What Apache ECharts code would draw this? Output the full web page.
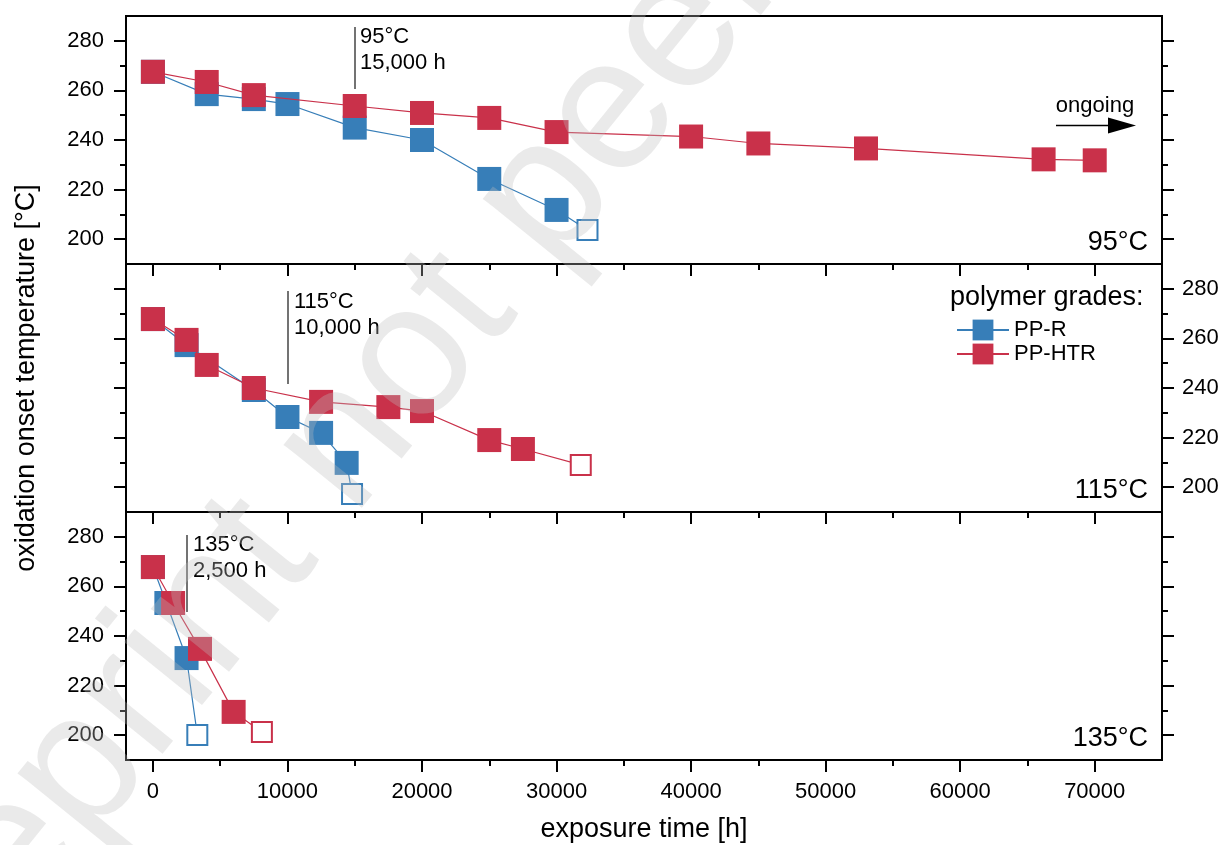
<!DOCTYPE html>
<html>
<head>
<meta charset="utf-8">
<title>oxidation onset temperature</title>
<script src="https://cdn.jsdelivr.net/npm/echarts@6/dist/echarts.min.js"></script>
<style>
	html, body { margin: 0; padding: 0; background: #fff; }
	#main { width: 1224px; height: 845px; }
</style>
</head>
<body>
<div id="main"></div>
<script>
	// exposure time [h] and oxidation onset temperature [°C]
	// 95°C ageing
	var ppR95Time = [0, 4000, 7500, 10000, 15000, 20000, 25000, 30000, 32300];
	var ppR95Oit = [267.5, 258.5, 256.5, 254.5, 245, 240, 224.3, 211.8, 203.7];
	var ppHtr95Time = [0, 4000, 7500, 15000, 20000, 25000, 30000, 40000, 45000, 53000, 66200, 70000];
	var ppHtr95Oit = [267.5, 263.4, 258.1, 253.7, 250.9, 248.9, 243.2, 241.4, 238.6, 236.6, 232.2, 231.8];
	// 115°C ageing
	var ppR115Time = [0, 2500, 7500, 10000, 12500, 14400, 14800];
	var ppR115Oit = [267.8, 257.3, 239.2, 228.3, 221.9, 209.8, 197.3];
	var ppHtr115Time = [0, 2500, 4000, 7500, 12500, 17500, 20000, 25000, 27500, 31800];
	var ppHtr115Oit = [267.8, 259.4, 249.3, 240, 234.4, 232.3, 230.7, 219, 215.4, 209];
	// 135°C ageing
	var ppR135Time = [0, 1000, 2500, 3300];
	var ppR135Oit = [267.8, 253.3, 231.1, 200.1];
	var ppHtr135Time = [0, 1500, 3500, 6000, 8100];
	var ppHtr135Oit = [267.8, 253.3, 234.8, 209.4, 201.3];

	// last point open (failed) or not: [PP-R, PP-HTR] per panel
	var lastOpen = [[true, false], [true, true], [true, true]];

	var panelNames = ['95°C', '115°C', '135°C'];
	var markTime = [15000, 10000, 2500];
	var markText = ['95°C\n15,000 h', '115°C\n10,000 h', '135°C\n2,500 h'];
	var markTop = [285.6, 279.1, 280.7];
	var markBottom = [260.6, 241.6, 249.7];

	var xMajor = [0, 10000, 20000, 30000, 40000, 50000, 60000, 70000];
	var xMinor = [5000, 15000, 25000, 35000, 45000, 55000, 65000];
	var yMajor = [200, 220, 240, 260, 280];
	var yMinor = [210, 230, 250, 270];

	var seriesNames = ['PP-R', 'PP-HTR'];
	var colors = ['#377EB8', '#C9314A'];
	var FONT = 'Liberation Sans, Arial, sans-serif';

	var panelData = [
		[[ppR95Time, ppR95Oit], [ppHtr95Time, ppHtr95Oit]],
		[[ppR115Time, ppR115Oit], [ppHtr115Time, ppHtr115Oit]],
		[[ppR135Time, ppR135Oit], [ppHtr135Time, ppHtr135Oit]]
	];

	var gridTops = [16, 264, 512];
	var gridH = 248;

	function makePoints(t, v, open, color) {
		var arr = [];
		for (var i = 0; i < t.length; i++) {
			if (open && i == t.length - 1) {
				arr.push({
					value : [t[i], v[i]],
					symbolSize : 20,
					itemStyle : { color : '#fff', borderColor : color, borderWidth : 2 }
				});
			} else {
				arr.push([t[i], v[i]]);
			}
		}
		return arr;
	}

	function tickAxis(type, g, pos, values, len, showLabel, margin) {
		var ax = {
			type : 'value',
			gridIndex : g,
			position : pos,
			min : type == 'x' ? -2000 : 190,
			max : type == 'x' ? 75000 : 290,
			axisLine : { show : false, onZero : false },
			splitLine : { show : false },
			axisTick : {
				show : true,
				inside : false,
				length : len,
				customValues : values,
				lineStyle : { color : '#000', width : 2 }
			},
			axisLabel : {
				show : showLabel,
				customValues : values,
				margin : margin,
				fontSize : 22,
				color : '#000',
				fontFamily : FONT,
				formatter : function(v) { return String(v); }
			}
		};
		return ax;
	}

	var grids = [], xAxes = [], yAxes = [], series = [], graphics = [];

	for (var g = 0; g < 3; g++) {
		grids.push({
			left : 126, right : 62, top : gridTops[g], height : gridH,
			show : true, borderColor : '#000', borderWidth : 2, backgroundColor : 'transparent'
		});
		// x: major + minor ticks
		xAxes.push(tickAxis('x', g, 'bottom', xMajor, 12, g == 2, 21));
		xAxes.push(tickAxis('x', g, 'bottom', xMinor, 6, false, 21));
		// y: left/right, major + minor
		var labelLeft = g != 1;
		yAxes.push(tickAxis('y', g, 'left', yMajor, 12, labelLeft, 22));
		yAxes.push(tickAxis('y', g, 'left', yMinor, 6, false, 22));
		yAxes.push(tickAxis('y', g, 'right', yMajor, 12, !labelLeft, 20));
		yAxes.push(tickAxis('y', g, 'right', yMinor, 6, false, 20));

		for (var s = 0; s < 2; s++) {
			var ser = {
				name : seriesNames[s],
				type : 'line',
				xAxisIndex : g * 2,
				yAxisIndex : g * 4,
				symbol : 'rect',
				symbolSize : 24,
				z : 3 + s,
				itemStyle : { color : colors[s] },
				lineStyle : { color : colors[s], width : 1.2 },
				emphasis : { disabled : true },
				animation : false,
				data : makePoints(panelData[g][s][0], panelData[g][s][1], lastOpen[g][s], colors[s])
			};
			if (s == 1) {
				ser.markLine = {
					silent : true,
					symbol : [ 'none', 'none' ],
					label : { show : false },
					lineStyle : { color : '#444', width : 1.5, type : 'solid' },
					data : [ [ { coord : [ markTime[g], markTop[g] ] }, { coord : [ markTime[g], markBottom[g] ] } ] ]
				};
			}
			series.push(ser);
		}
	}

	xAxes[4].name = 'exposure time [h]';
	xAxes[4].nameLocation = 'middle';
	xAxes[4].nameGap = 56;
	xAxes[4].nameTextStyle = { fontSize : 27, color : '#000', fontFamily : FONT };

	// annotation texts (time of the test)
	var markTextPos = [[360, 24], [294, 289], [193, 532]];
	for (var k = 0; k < 3; k++) {
		graphics.push({
			type : 'text', x : markTextPos[k][0], y : markTextPos[k][1], z : 10,
			style : { text : markText[k], font : '22px ' + FONT, fill : '#000', lineHeight : 26,
				textAlign : 'left', textVerticalAlign : 'top', align : 'left', verticalAlign : 'top' }
		});
		graphics.push({
			type : 'text', x : 1148, y : gridTops[k] + 227, z : 10,
			style : { text : panelNames[k], font : '27px ' + FONT, fill : '#000',
				textAlign : 'right', textVerticalAlign : 'middle', align : 'right', verticalAlign : 'middle' }
		});
	}

	// y title
	graphics.push({
		type : 'text', x : 27, y : 378, rotation : Math.PI / 2, z : 10,
		style : { text : 'oxidation onset temperature [°C]', font : '27px ' + FONT, fill : '#000',
			textAlign : 'center', textVerticalAlign : 'middle', align : 'center', verticalAlign : 'middle' }
	});

	// legend title
	graphics.push({
		type : 'text', x : 950, y : 298, z : 10,
		style : { text : 'polymer grades:', font : '27px ' + FONT, fill : '#000',
			textAlign : 'left', textVerticalAlign : 'middle', align : 'left', verticalAlign : 'middle' }
	});

	// "ongoing" arrow
	graphics.push({
		type : 'text', x : 1095, y : 106, z : 10,
		style : { text : 'ongoing', font : '22px ' + FONT, fill : '#000',
			textAlign : 'center', textVerticalAlign : 'middle', align : 'center', verticalAlign : 'middle' }
	});
	graphics.push({
		type : 'line', z : 10,
		shape : { x1 : 1056, y1 : 125.5, x2 : 1112, y2 : 125.5 },
		style : { stroke : '#000', lineWidth : 1.5 }
	});
	graphics.push({
		type : 'polygon', z : 10,
		shape : { points : [ [ 1108, 117.5 ], [ 1136, 125.5 ], [ 1108, 133.5 ] ] },
		style : { fill : '#000' }
	});

	// watermark
	graphics.push({
		type : 'text', x : -139, y : 1043, rotation : 51 * Math.PI / 180, z : 100, silent : true,
		style : { text : 'Preprint not peer reviewed', font : '190px ' + FONT, fill : 'rgba(190,190,190,0.32)',
			textAlign : 'left', textVerticalAlign : 'middle', align : 'left', verticalAlign : 'middle' }
	});

	var option = {
		backgroundColor : '#fff',
		animation : false,
		textStyle : { fontFamily : FONT },
		grid : grids,
		xAxis : xAxes,
		yAxis : yAxes,
		legend : {
			data : seriesNames,
			orient : 'vertical',
			left : 951,
			top : 314,
			itemWidth : 52,
			itemHeight : 26,
			itemGap : 2,
			textStyle : { fontSize : 22, color : '#000', fontFamily : FONT, padding : [0, 0, 0, 0] },
			selectedMode : false
		},
		series : series,
		graphic : graphics
	};

	var myChart = echarts.init(document.getElementById('main'));
	myChart.setOption(option, true);
</script>
</body>
</html>
